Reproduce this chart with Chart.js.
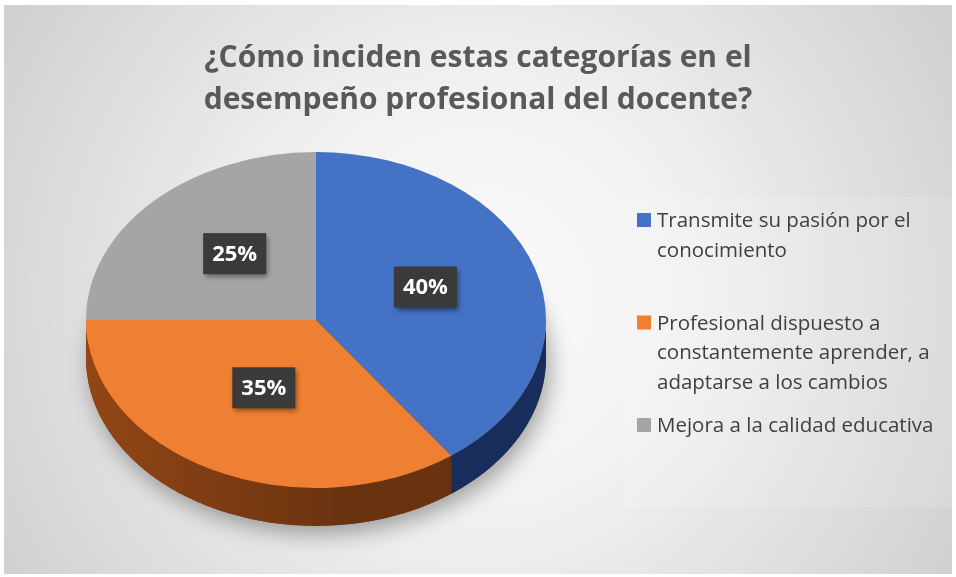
<!DOCTYPE html>
<html>
<head>
<meta charset="utf-8">
<script src="https://cdn.jsdelivr.net/npm/chart.js@4.4.1/dist/chart.umd.min.js"></script>
<style>
  html, body { margin: 0; padding: 0; background: #fff; }
  canvas { display: block; }
</style>
</head>
<body>
<canvas id="myChart" width="956" height="577"></canvas>
<script>
var titleLines = ['¿Cómo inciden estas categorías en el', 'desempeño profesional del docente?'];
var categories = [
    'Transmite su pasión por el conocimiento',
    'Profesional dispuesto a constantemente aprender, a adaptarse a los cambios',
    'Mejora a la calidad educativa'
];
var percents = [40, 35, 25];
var topColors = ['#4472c4', '#ef7f32', '#a5a5a5'];
var sideColors = [['#203c74', '#172e5c'], ['#934615', '#6a3310'], ['#7c7c7c', '#666666']];

// pie look
var PIE_X = 316, PIE_Y = 320, RADIUS = 230, TILT = 0.73, DEPTH = 38;

function tilt(ctx, cx, cy, dy) {
    ctx.translate(PIE_X, PIE_Y + dy);
    ctx.scale(1, TILT);
    ctx.translate(-cx, -cy);
}

function wrap(ctx, text, maxW) {
    var words = text.split(' '), lines = [], cur = '';
    words.forEach(function (w) {
        var t = cur ? cur + ' ' + w : w;
        if (ctx.measureText(t).width > maxW && cur) { lines.push(cur); cur = w; }
        else cur = t;
    });
    if (cur) lines.push(cur);
    return lines;
}

var backdrop = {
    id: 'backdrop',
    beforeDraw: function (chart) {
        var ctx = chart.ctx;
        ctx.save();
        var g = ctx.createRadialGradient(478, 300, 0, 478, 300, 620);
        g.addColorStop(0, '#fbfbfb');
        g.addColorStop(0.35, '#f1f1f1');
        g.addColorStop(1, '#c9c9c9');
        ctx.fillStyle = g;
        ctx.fillRect(4, 5, 948, 569);
        ctx.restore();
    }
};

var pie3d = {
    id: 'pie3d',
    beforeDatasetsDraw: function (chart) {
        var ctx = chart.ctx;
        var arcs = chart.getDatasetMeta(0).data;
        var cx = arcs[0].x, cy = arcs[0].y, r = arcs[0].outerRadius;

        // soft shadow under the pie
        ctx.save();
        tilt(ctx, cx, cy, DEPTH);
        ctx.beginPath();
        ctx.arc(cx, cy, r, 0, Math.PI * 2);
        ctx.restore();
        ctx.save();
        ctx.shadowColor = 'rgba(0,0,0,0.35)';
        ctx.shadowBlur = 22;
        ctx.shadowOffsetX = 4;
        ctx.shadowOffsetY = 8;
        ctx.fillStyle = '#6c3410';
        ctx.fill();
        ctx.restore();

        // side walls of the front slices
        arcs.forEach(function (a, i) {
            var s = Math.max(a.startAngle, 0), e = Math.min(a.endAngle, Math.PI);
            if (e <= s) return;
            ctx.save();
            ctx.beginPath();
            ctx.save(); tilt(ctx, cx, cy, 0);
            ctx.arc(cx, cy, r, s, e);
            ctx.restore();
            ctx.save(); tilt(ctx, cx, cy, DEPTH);
            ctx.arc(cx, cy, r, e, s, true);
            ctx.restore();
            ctx.closePath();
            var g = ctx.createLinearGradient(PIE_X - r, 0, PIE_X + r, 0);
            g.addColorStop(0, sideColors[i][0]);
            g.addColorStop(0.55, sideColors[i][1]);
            g.addColorStop(1, sideColors[i][1]);
            ctx.fillStyle = g;
            ctx.fill();
            ctx.restore();
        });

        // top face
        ctx.save();
        tilt(ctx, cx, cy, 0);
    },
    afterDatasetsDraw: function (chart) {
        var ctx = chart.ctx;
        ctx.restore();

        var arcs = chart.getDatasetMeta(0).data;
        var total = percents.reduce(function (s, v) { return s + v; }, 0);
        ctx.save();
        ctx.font = 'bold 22px "Open Sans"';
        ctx.textAlign = 'center';
        ctx.textBaseline = 'middle';
        arcs.forEach(function (a, i) {
            var mid = (a.startAngle + a.endAngle) / 2;
            var x = PIE_X + a.outerRadius * 0.5 * Math.cos(mid);
            var y = PIE_Y + TILT * a.outerRadius * 0.5 * Math.sin(mid) - 7;
            var txt = Math.round(percents[i] / total * 100) + '%';
            var w = ctx.measureText(txt).width + 18, h = 41;
            ctx.save();
            ctx.shadowColor = 'rgba(0,0,0,0.45)';
            ctx.shadowBlur = 5;
            ctx.shadowOffsetX = 2;
            ctx.shadowOffsetY = 3;
            ctx.fillStyle = '#3a3a3a';
            ctx.fillRect(x - w / 2, y - h / 2, w, h);
            ctx.restore();
            ctx.fillStyle = '#ffffff';
            ctx.fillText(txt, x, y + 1);
        });
        ctx.restore();
    },
    afterDraw: function (chart) {
        // legend on the right
        var ctx = chart.ctx;
        ctx.save();
        ctx.fillStyle = 'rgba(255,255,255,0.12)';
        ctx.fillRect(624, 197, 328, 310);
        ctx.font = '20.5px "Open Sans"';
        ctx.textBaseline = 'alphabetic';
        categories.forEach(function (c, i) {
            var base = 227 + i * 102.5;
            ctx.fillStyle = topColors[i];
            ctx.fillRect(637, base - 14, 14, 14);
            ctx.fillStyle = '#404040';
            wrap(ctx, c, 292).forEach(function (ln, j) {
                ctx.fillText(ln, 657, base + j * 29.5);
            });
        });
        ctx.restore();
    }
};

new Chart(document.getElementById('myChart'), {
    type: 'pie',
    data: {
        labels: categories,
        datasets: [{
            data: percents,
            backgroundColor: topColors,
            borderWidth: 0,
            radius: RADIUS,
            clip: false
        }]
    },
    options: {
        responsive: false,
        animation: false,
        events: [],
        plugins: {
            legend: { display: false },
            tooltip: { enabled: false },
            title: {
                display: true,
                text: titleLines,
                color: '#595959',
                font: { family: 'Open Sans', size: 30, weight: 'bold', lineHeight: 1.4 },
                padding: { top: 37, bottom: 10 }
            }
        }
    },
    plugins: [backdrop, pie3d]
});
</script>
</body>
</html>
